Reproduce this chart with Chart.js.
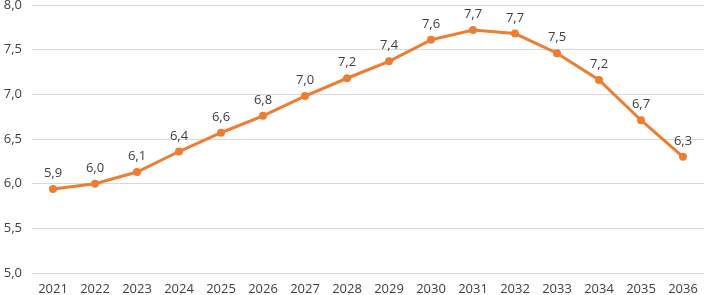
<!DOCTYPE html>
<html>
<head>
<meta charset="utf-8">
<script src="https://cdn.jsdelivr.net/npm/chart.js@4"></script>
<style>
  html, body { margin: 0; padding: 0; background: #fff; }
  #wrap { width: 708px; height: 295px; }
</style>
</head>
<body>
<div id="wrap"><canvas id="chart"></canvas></div>
<script>
const years = ['2021', '2022', '2023', '2024', '2025', '2026', '2027', '2028',
               '2029', '2030', '2031', '2032', '2033', '2034', '2035', '2036'];
const values = [5.94, 6.0, 6.13, 6.36, 6.57, 6.76, 6.98, 7.18,
                7.37, 7.61, 7.72, 7.68, 7.46, 7.16, 6.71, 6.30];
const yTicks = [5.0, 5.5, 6.0, 6.5, 7.0, 7.5, 8.0];

const fmt = v => v.toFixed(1).replace('.', ',');

// value labels above each point
const pointLabels = {
    id: 'pointLabels',
    afterDatasetsDraw(chart) {
        const ctx = chart.ctx;
        const meta = chart.getDatasetMeta(0);
        ctx.save();
        ctx.font = '13px "Open Sans", sans-serif';
        ctx.fillStyle = '#404040';
        ctx.textAlign = 'center';
        ctx.textBaseline = 'bottom';
        meta.data.forEach((pt, i) => {
            ctx.fillText(fmt(values[i]), pt.x, pt.y - 9);
        });
        ctx.restore();
    }
};

new Chart(document.getElementById('chart'), {
    type: 'line',
    data: {
        labels: years,
        datasets: [{
            data: values,
            borderColor: '#ED7D31',
            backgroundColor: '#ED7D31',
            borderWidth: 3,
            pointRadius: 4,
            pointBorderWidth: 0,
            tension: 0
        }]
    },
    options: {
        responsive: true,
        maintainAspectRatio: false,
        animation: false,
        layout: { padding: { top: 5, right: 0, bottom: 0, left: 0 } },
        plugins: {
            legend: { display: false },
            tooltip: { enabled: false }
        },
        scales: {
            x: {
                offset: true,
                grid: { display: false },
                border: { display: false },
                afterFit: axis => { axis.height = 22; },
                ticks: {
                    color: '#404040',
                    font: { family: '"Open Sans", sans-serif', size: 13 },
                    maxRotation: 0,
                    padding: 0
                }
            },
            y: {
                min: 5,
                max: 8,
                afterBuildTicks: axis => {
                    axis.ticks = yTicks.map(v => ({ value: v }));
                },
                afterFit: axis => {
                    axis.width = 32;
                    axis.paddingTop = 0;
                    axis.paddingBottom = 0;
                },
                grid: { color: '#d9d9d9', lineWidth: 1, drawTicks: false },
                border: { display: false },
                ticks: {
                    color: '#404040',
                    font: { family: '"Open Sans", sans-serif', size: 13 },
                    padding: 10,
                    callback: v => fmt(v)
                }
            }
        }
    },
    plugins: [pointLabels]
});
</script>
</body>
</html>
